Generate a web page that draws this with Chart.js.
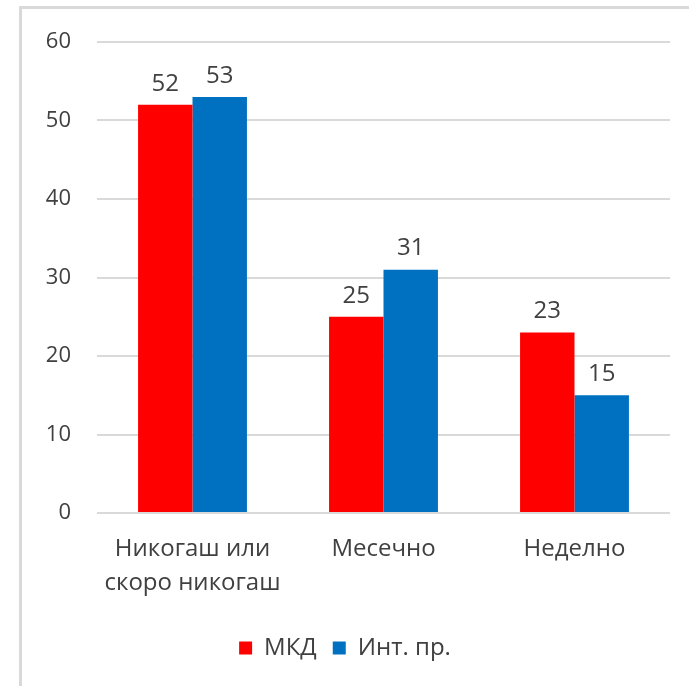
<!DOCTYPE html>
<html>
<head>
<meta charset="utf-8">
<script src="https://cdn.jsdelivr.net/npm/chart.js@4.4.0/dist/chart.umd.min.js"></script>
<style>
  body { margin: 0; background: #fff; overflow: hidden; }
  #wrap { position: relative; width: 689px; height: 686px; overflow: hidden; }
  #frame { position: absolute; left: 19px; top: 6px; width: 700px; height: 700px;
           border-left: 3px solid #d9d9d9; border-top: 3px solid #d9d9d9; }
  canvas { position: absolute; left: 0; top: 0; }
</style>
</head>
<body>
<div id="wrap">
  <div id="frame"></div>
  <canvas id="chart" width="689" height="686"></canvas>
</div>
<script>
const categories = [['Никогаш или', 'скоро никогаш'], 'Месечно', 'Неделно'];
const seriesNames = ['МКД', 'Инт. пр.'];
const mkdValues = [52, 25, 23];
const intValues = [53, 31, 15];
const yTicks = [0, 10, 20, 30, 40, 50, 60];

const fontFamily = '"Open Sans", "Noto Sans", sans-serif';
const fontSize = 22;
const bigFont = 24;
const textColor = '#404040';

// draws the number above each bar
const valueLabels = {
  id: 'valueLabels',
  afterDatasetsDraw(chart) {
    const ctx = chart.ctx;
    ctx.save();
    ctx.font = bigFont + 'px ' + fontFamily;
    ctx.fillStyle = textColor;
    ctx.textAlign = 'center';
    ctx.textBaseline = 'bottom';
    chart.data.datasets.forEach((ds, i) => {
      chart.getDatasetMeta(i).data.forEach((bar, j) => {
        ctx.fillText(ds.data[j], bar.x, bar.y - 9);
      });
    });
    ctx.restore();
  }
};

new Chart(document.getElementById('chart').getContext('2d'), {
  type: 'bar',
  data: {
    labels: categories,
    datasets: [
      { label: seriesNames[0], data: mkdValues, backgroundColor: '#FF0000' },
      { label: seriesNames[1], data: intValues, backgroundColor: '#0070C0' }
    ]
  },
  options: {
    responsive: false,
    animation: false,
    layout: { padding: { left: 20, right: 19, top: 42, bottom: 16 } },
    datasets: { bar: { categoryPercentage: 0.57, barPercentage: 1.0 } },
    plugins: {
      legend: {
        position: 'bottom',
        labels: {
          font: { family: fontFamily, size: bigFont },
          color: textColor,
          boxWidth: 13,
          boxHeight: 13,
          padding: 16
        }
      },
      tooltip: { enabled: false }
    },
    scales: {
      x: {
        grid: { display: false, drawTicks: false },
        border: { display: false },
        ticks: {
          font: { family: fontFamily, size: bigFont, lineHeight: 1.38 },
          color: textColor,
          padding: 20,
          maxRotation: 0
        },
        afterFit: s => { s.height = 107; }
      },
      y: {
        min: yTicks[0],
        max: yTicks[yTicks.length - 1],
        afterBuildTicks: s => { s.ticks = yTicks.map(v => ({ value: v })); },
        grid: { color: '#d9d9d9', lineWidth: 2, drawTicks: false },
        border: { display: false },
        ticks: {
          font: { family: fontFamily, size: fontSize },
          color: textColor,
          padding: 26
        },
        afterFit: s => { s.width = 77; }
      }
    }
  },
  plugins: [valueLabels]
});
</script>
</body>
</html>
